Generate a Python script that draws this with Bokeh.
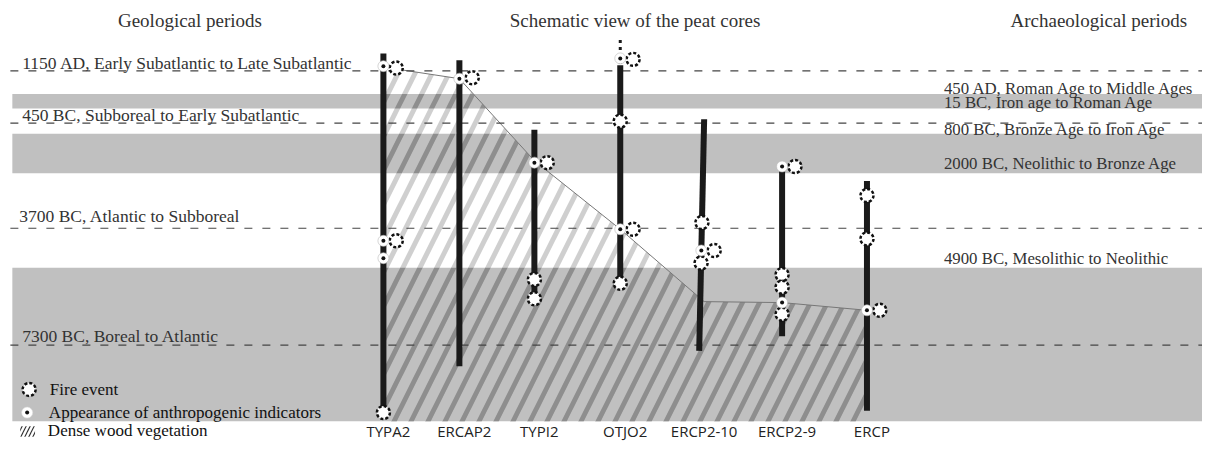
import numpy as np
from bokeh.plotting import figure
from bokeh.models import Range1d
from bokeh.core.properties import value
from bokeh.embed import file_html
from bokeh.resources import INLINE

# ---------------- data (schematic positions, y grows downward) ----------------
cores = ["TYPA2", "ERCAP2", "TYPI2", "OTJO2", "ERCP2-10", "ERCP2-9", "ERCP"]
core_x_top = [388, 465, 541, 628, 713, 792, 878]
core_x_bottom = [388, 465, 541, 628, 708, 792, 878]
core_top = [55, 62, 134, 67, 123, 172, 187]
core_bottom = [427, 379, 313, 295, 363, 348, 425]

# uncertain (dotted) top part of a core
dotted_core = ["OTJO2"]
dotted_top = [41]
dotted_bottom = [67]

# fire events: core, position, beside the core (1) or on it (0)
fire_core = ["TYPA2", "TYPA2", "TYPA2", "ERCAP2", "TYPI2", "TYPI2", "TYPI2",
             "OTJO2", "OTJO2", "OTJO2", "OTJO2", "ERCP2-10", "ERCP2-10", "ERCP2-10",
             "ERCP2-9", "ERCP2-9", "ERCP2-9", "ERCP2-9", "ERCP", "ERCP", "ERCP"]
fire_pos = [70, 249, 427, 80, 168, 289, 309,
            61, 125, 237, 293, 230, 259, 272,
            172, 284, 297, 325, 202, 247, 321]
fire_beside = [1, 1, 0, 1, 1, 0, 0,
               1, 0, 1, 0, 0, 1, 0,
               1, 0, 0, 0, 0, 0, 1]

# appearance of anthropogenic indicators
anth_core = ["TYPA2", "TYPA2", "TYPA2", "ERCAP2", "TYPI2", "OTJO2", "OTJO2",
             "ERCP2-10", "ERCP2-9", "ERCP2-9", "ERCP"]
anth_pos = [68, 249, 267, 81, 168, 60, 237, 259, 172, 313, 321]

# upper limit of dense wood vegetation per core
wood_core = ["TYPA2", "ERCAP2", "TYPI2", "OTJO2", "ERCP2-10", "ERCP2-9", "ERCP"]
wood_top = [69, 81, 166, 237, 312, 313, 321]
wood_bottom = 436

# period boundaries
geo_labels = ["1150 AD, Early Subatlantic to Late Subatlantic",
              "450 BC, Subboreal to Early Subatlantic",
              "3700 BC, Atlantic to Subboreal",
              "7300 BC, Boreal to Atlantic"]
geo_pos = [73, 127, 236, 357]
geo_label_pos = [65, 119, 223, 348]

arch_labels = ["450 AD, Roman Age to Middle Ages",
               "15 BC, Iron age to Roman Age",
               "800 BC, Bronze Age to Iron Age",
               "2000 BC, Neolithic to Bronze Age",
               "4900 BC, Mesolithic to Neolithic"]
arch_label_pos = [91, 106, 134, 169, 267]
# grey archaeological bands (start, end)
band_start = [97, 138, 277]
band_end = [112, 179, 436]

titles = ["Geological periods", "Schematic view of the peat cores", "Archaeological periods"]
title_x = [192, 643, 1113]

legend_labels = ["Fire event", "Appearance of anthropogenic indicators", "Dense wood vegetation"]

# ---------------- figure ----------------
W, H = 1218, 459
p = figure(width=1202, height=443, x_range=Range1d(0, W), y_range=Range1d(H, 0),
           output_backend="svg", toolbar_location=None,
           x_axis_type=None, y_axis_type=None, min_border=0)
p.grid.visible = False
p.outline_line_color = None
p.background_fill_color = "white"
p.border_fill_color = "white"

xmap_top = dict(zip(cores, core_x_top))
xmap_bot = dict(zip(cores, core_x_bottom))

def core_x_at(c, y):
    i = cores.index(c)
    t, b = core_top[i], core_bottom[i]
    f = (y - t) / (b - t) if b != t else 0
    return xmap_top[c] + (xmap_bot[c] - xmap_top[c]) * f

# grey bands
p.quad(left=12, right=W, top=band_start, bottom=band_end, fill_color="#c0c0c0", line_color=None)

# hatched dense wood vegetation
HS, HW = 34, 5
wx = [xmap_top[c] for c in wood_core]
xs = np.linspace(wx[0], wx[-1], 600)
f = np.interp(xs, wx, wood_top)
px = np.concatenate([xs, xs[::-1]])
py = np.concatenate([f, np.full_like(xs, wood_bottom)])
p.patch(px, py, fill_alpha=0, line_color=None, hatch_pattern="/", hatch_color="#cfcfcf",
        hatch_scale=HS, hatch_weight=HW)
for y0, y1 in zip(band_start, band_end):
    y1c = min(y1, wood_bottom)
    top = np.minimum(np.maximum(f, y0), y1c)
    p.patch(np.concatenate([xs, xs[::-1]]), np.concatenate([top, np.full_like(xs, y1c)]),
            fill_alpha=0, line_color=None, hatch_pattern="/", hatch_color="#8e8e8e",
            hatch_scale=HS, hatch_weight=HW)
p.line(wx, wood_top, line_color="#777777", line_width=1)

# dashed boundaries of geological periods
p.segment(x0=10, x1=W, y0=geo_pos, y1=geo_pos, line_color="#444444", line_width=1.2, line_dash="8 10")

# cores
p.segment(x0=core_x_top, x1=core_x_bottom, y0=core_top, y1=core_bottom,
          line_color="#1a1a1a", line_width=6)
p.segment(x0=[xmap_top[c] for c in dotted_core], x1=[xmap_top[c] for c in dotted_core],
          y0=dotted_top, y1=dotted_bottom, line_color="#1a1a1a", line_width=3, line_dash="3 4")

# markers
fx = [core_x_at(c, y) + 13 * b for c, y, b in zip(fire_core, fire_pos, fire_beside)]
p.scatter(fx, fire_pos, size=13, fill_color="white", line_color="#111111",
          line_width=2.5, line_dash="3 2")
ax = [core_x_at(c, y) for c, y in zip(anth_core, anth_pos)]
p.scatter(ax, anth_pos, size=11, fill_color="white", line_color="#bbbbbb", line_width=0.6)
p.scatter(ax, anth_pos, size=4, fill_color="#111111", line_color=None)

serif = value("Liberation Serif")
# titles
p.text(title_x, [21] * 3, text=titles, text_font=serif, text_font_size=value("19px"),
       text_color="#333333", text_align="center", text_baseline="middle")
# geological labels
p.text([22, 22, 19, 22], geo_label_pos, text=geo_labels, text_font=serif,
       text_font_size=value("17.5px"), text_color="#333333", text_align="left",
       text_baseline="middle")
# archaeological labels
p.text([956] * len(arch_labels), arch_label_pos, text=arch_labels, text_font=serif,
       text_font_size=value("16.8px"), text_color="#333333", text_align="left",
       text_baseline="middle")
# core labels
p.text([x + 5 for x in core_x_bottom], [446] * len(cores), text=cores,
       text_font=value("Open Sans"), text_font_size=value("15px"), text_color="#222222",
       text_align="center", text_baseline="middle")

# legend
p.scatter([29], [403], size=13, fill_color="white", line_color="#111111",
          line_width=2.5, line_dash="3 2")
p.scatter([27], [427], size=11, fill_color="white", line_color="#dddddd", line_width=0.6)
p.scatter([27], [427], size=4, fill_color="#111111", line_color=None)
p.quad(left=[20], right=[35], top=[441], bottom=[452], fill_alpha=0, line_color=None,
       hatch_pattern="/", hatch_color="#333333", hatch_scale=8, hatch_weight=1.2)
p.text([50, 49, 48], [403, 427, 446], text=legend_labels, text_font=serif,
       text_font_size=value("17px"), text_color="#111111", text_align="left",
       text_baseline="middle")

open("out.html", "w").write(file_html(p, INLINE))
